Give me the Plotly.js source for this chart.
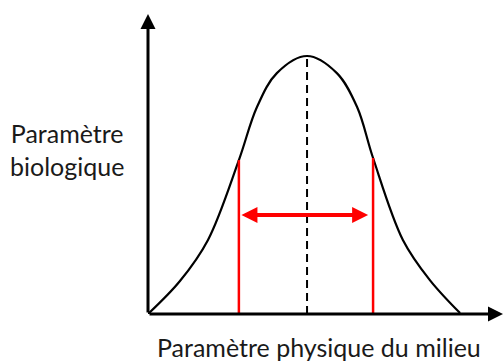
<!DOCTYPE html>
<html>
<head>
<meta charset="utf-8">
<script src="https://cdn.plot.ly/plotly-3.0.1.min.js"></script>
<style>
  body { margin: 0; background: #fff; }
  #chart { width: 504px; height: 361px; }
</style>
</head>
<body>
<div id="chart"></div>
<script>
// bell curve (x: physical parameter, y: biological parameter)
const curveX = [0, 9.0, 16.9, 25.6, 30.7, 36.3, 44.8, 53.2, 58.9, 63.4, 71.8, 79.4, 87.9];
const curveY = [0, 11.0, 24.7, 51.3, 69.0, 80.3, 86.0, 80.3, 69.0, 52.0, 24.7, 11.3, 0.3];

// optimum (dashed line) and tolerance limits (red lines)
const optimumX = 44.8;
const optimumY = 86;
const limitsX = [25.6, 63.4];
const limitsY = [51.3, 52];
const rangeArrowY = 33;
const rangeArrowX = [25.9, 62];

const axisMax = 100;

const yLabel = 'Paramètre<br>biologique';
const xLabel = 'Paramètre physique du milieu';

function buildTraces() {
    const traces = [];

    traces.push({
        x: curveX,
        y: curveY,
        type: 'scatter',
        mode: 'lines',
        line: { color: '#000', width: 2.2, shape: 'spline', smoothing: 1 },
        hoverinfo: 'skip'
    });

    traces.push({
        x: [optimumX, optimumX],
        y: [0, optimumY],
        type: 'scatter',
        mode: 'lines',
        line: { color: '#000', width: 2, dash: '8px,5px' },
        hoverinfo: 'skip'
    });

    limitsX.forEach((lx, i) => {
        traces.push({
            x: [lx, lx],
            y: [0, limitsY[i]],
            type: 'scatter',
            mode: 'lines',
            line: { color: '#ff0000', width: 2.5 },
            hoverinfo: 'skip'
        });
    });

    return traces;
}

function buildAnnotations() {
    return [
        // x axis with arrow
        {
            x: axisMax, y: 0, ax: 0, ay: 0,
            xref: 'x', yref: 'y', axref: 'x', ayref: 'y',
            text: '', showarrow: true,
            arrowhead: 2, arrowsize: 1, arrowwidth: 3, arrowcolor: '#000'
        },
        // y axis with arrow
        {
            x: 0, y: axisMax, ax: 0, ay: 0,
            xref: 'x', yref: 'y', axref: 'x', ayref: 'y',
            text: '', showarrow: true,
            arrowhead: 2, arrowsize: 1, arrowwidth: 3, arrowcolor: '#000'
        },
        // double red arrow between the limits
        {
            x: rangeArrowX[1], y: rangeArrowY, ax: rangeArrowX[0], ay: rangeArrowY,
            xref: 'x', yref: 'y', axref: 'x', ayref: 'y',
            text: '', showarrow: true, arrowside: 'end+start',
            arrowhead: 2, startarrowhead: 2, arrowsize: 0.8, startarrowsize: 0.8,
            arrowwidth: 4, arrowcolor: '#ff0000'
        },
        {
            x: -0.228, y: 0.55, xref: 'paper', yref: 'paper',
            text: yLabel, showarrow: false,
            xanchor: 'center', yanchor: 'middle', align: 'center',
            font: { family: 'Lato', size: 25, color: '#1a1a1a' }
        },
        {
            x: 0.482, y: -0.11, xref: 'paper', yref: 'paper',
            text: xLabel, showarrow: false,
            xanchor: 'center', yanchor: 'middle',
            font: { family: 'Lato', size: 25, color: '#1a1a1a' }
        }
    ];
}

const layout = {
    width: 504,
    height: 361,
    margin: { l: 148, r: 1, t: 14, b: 47 },
    paper_bgcolor: '#fff',
    plot_bgcolor: '#fff',
    showlegend: false,
    xaxis: { range: [0, axisMax], visible: false, fixedrange: true },
    yaxis: { range: [0, axisMax], visible: false, fixedrange: true },
    annotations: buildAnnotations()
};

Plotly.newPlot('chart', buildTraces(), layout, { displayModeBar: false, staticPlot: true });
</script>
</body>
</html>
